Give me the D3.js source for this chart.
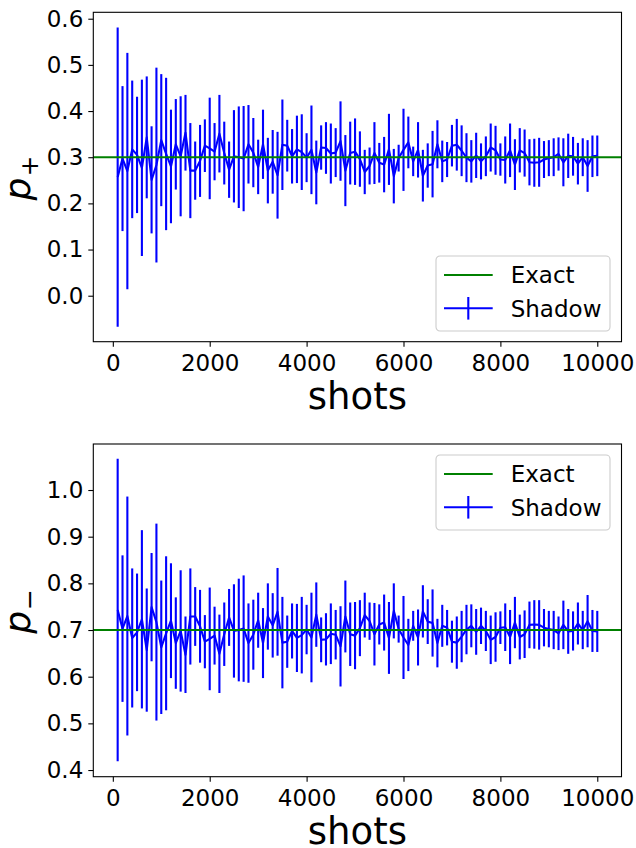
<!DOCTYPE html>
<html>
<head>
<meta charset="utf-8">
<script src="https://cdn.jsdelivr.net/npm/d3@7"></script>
<style>
  html, body { margin: 0; padding: 0; background: #ffffff; }
  svg { display: block; font-family: "DejaVu Sans", sans-serif; }
</style>
</head>
<body>
<svg id="chart" width="636" height="848"></svg>
<script>
// ---------------- data ----------------
const shots = [100,200,300,400,500,600,700,800,900,1000,
  1100,1200,1300,1400,1500,1600,1700,1800,1900,2000,
  2100,2200,2300,2400,2500,2600,2700,2800,2900,3000,
  3100,3200,3300,3400,3500,3600,3700,3800,3900,4000,
  4100,4200,4300,4400,4500,4600,4700,4800,4900,5000,
  5100,5200,5300,5400,5500,5600,5700,5800,5900,6000,
  6100,6200,6300,6400,6500,6600,6700,6800,6900,7000,
  7100,7200,7300,7400,7500,7600,7700,7800,7900,8000,
  8100,8200,8300,8400,8500,8600,8700,8800,8900,9000,
  9100,9200,9300,9400,9500,9600,9700,9800,9900,10000];

const pPlusMean = [0.257,0.297,0.270,0.317,0.305,0.277,0.343,0.251,0.283,0.337,
  0.307,0.280,0.328,0.302,0.353,0.271,0.271,0.292,0.325,0.319,
  0.312,0.351,0.309,0.273,0.302,0.300,0.297,0.328,0.310,0.279,
  0.328,0.271,0.290,0.261,0.327,0.325,0.302,0.317,0.311,0.299,
  0.316,0.267,0.321,0.320,0.308,0.310,0.335,0.271,0.309,0.312,
  0.296,0.268,0.281,0.309,0.288,0.284,0.317,0.259,0.298,0.316,
  0.332,0.291,0.316,0.260,0.282,0.285,0.328,0.291,0.295,0.325,
  0.327,0.314,0.299,0.291,0.304,0.291,0.302,0.321,0.315,0.295,
  0.294,0.315,0.284,0.315,0.309,0.289,0.288,0.289,0.295,0.298,
  0.300,0.307,0.289,0.303,0.302,0.286,0.300,0.281,0.302,0.303];

const pPlusErr = [0.324,0.157,0.256,0.149,0.126,0.191,0.132,0.116,0.211,0.143,
  0.165,0.123,0.098,0.130,0.082,0.103,0.063,0.078,0.057,0.110,
  0.062,0.084,0.068,0.061,0.100,0.110,0.114,0.085,0.075,0.059,
  0.075,0.071,0.069,0.094,0.098,0.056,0.059,0.073,0.082,0.053,
  0.096,0.069,0.048,0.056,0.065,0.053,0.086,0.077,0.068,0.072,
  0.060,0.048,0.040,0.067,0.043,0.060,0.077,0.059,0.029,0.089,
  0.056,0.032,0.060,0.056,0.048,0.072,0.052,0.045,0.038,0.045,
  0.056,0.055,0.053,0.046,0.049,0.039,0.043,0.052,0.053,0.035,
  0.051,0.058,0.055,0.048,0.051,0.050,0.052,0.053,0.040,0.039,
  0.041,0.036,0.052,0.048,0.042,0.045,0.041,0.056,0.045,0.044];

const pMinusMean = [0.743,0.703,0.730,0.683,0.695,0.723,0.657,0.749,0.717,0.663,
  0.693,0.720,0.672,0.698,0.647,0.729,0.729,0.708,0.675,0.681,
  0.688,0.649,0.691,0.727,0.698,0.700,0.703,0.672,0.690,0.721,
  0.672,0.729,0.710,0.739,0.673,0.675,0.698,0.683,0.689,0.701,
  0.684,0.733,0.679,0.680,0.692,0.690,0.665,0.729,0.691,0.688,
  0.704,0.732,0.719,0.691,0.712,0.716,0.683,0.741,0.702,0.684,
  0.668,0.709,0.684,0.740,0.718,0.715,0.672,0.709,0.705,0.675,
  0.673,0.686,0.701,0.709,0.696,0.709,0.698,0.679,0.685,0.705,
  0.706,0.685,0.716,0.685,0.691,0.711,0.712,0.711,0.705,0.702,
  0.700,0.693,0.711,0.697,0.698,0.714,0.700,0.719,0.698,0.697];

const pMinusErr = [0.324,0.157,0.256,0.149,0.126,0.191,0.132,0.116,0.211,0.143,
  0.165,0.123,0.098,0.130,0.082,0.103,0.063,0.078,0.057,0.110,
  0.062,0.084,0.068,0.061,0.100,0.110,0.114,0.085,0.075,0.059,
  0.075,0.071,0.069,0.094,0.098,0.056,0.059,0.073,0.082,0.053,
  0.096,0.069,0.048,0.056,0.065,0.053,0.086,0.077,0.068,0.072,
  0.060,0.048,0.040,0.067,0.043,0.060,0.077,0.059,0.029,0.089,
  0.056,0.032,0.060,0.056,0.048,0.072,0.052,0.045,0.038,0.045,
  0.056,0.055,0.053,0.046,0.049,0.039,0.043,0.052,0.053,0.035,
  0.051,0.058,0.055,0.048,0.051,0.050,0.052,0.053,0.040,0.039,
  0.041,0.036,0.052,0.048,0.042,0.045,0.041,0.056,0.045,0.044];

const exactPlus = 0.3;
const exactMinus = 0.7;

const xTicks = [0, 2000, 4000, 6000, 8000, 10000];
const yTicksPlus = [0.0, 0.1, 0.2, 0.3, 0.4, 0.5, 0.6];
const yTicksMinus = [0.4, 0.5, 0.6, 0.7, 0.8, 0.9, 1.0];

const legendLabels = ["Exact", "Shadow"];
const xLabel = "shots";

// ---------------- drawing ----------------
const svg = d3.select("#chart");
const BLUE = "#0000ff", GREEN = "#008000";

function panel(opts) {
  const { top, bottom, yDomain, yTicks, mean, err, exact, sub, legendTop } = opts;
  const left = 93.3, right = 621.5;
  const x = d3.scaleLinear().domain([-403, 10500]).range([left, right]);
  const y = d3.scaleLinear().domain(yDomain).range([bottom, top]);
  const g = svg.append("g");

  // error bars
  g.append("g").selectAll("line").data(shots).join("line")
    .attr("x1", (d) => x(d)).attr("x2", (d) => x(d))
    .attr("y1", (d, i) => y(mean[i] - err[i]))
    .attr("y2", (d, i) => y(mean[i] + err[i]))
    .attr("stroke", BLUE).attr("stroke-width", 2.1);

  // mean line
  const line = d3.line().x((d) => x(d)).y((d, i) => y(mean[i]));
  g.append("path").datum(shots).attr("d", line)
    .attr("fill", "none").attr("stroke", BLUE).attr("stroke-width", 2.1)
    .attr("stroke-linejoin", "round");

  // exact line
  g.append("line").attr("x1", left).attr("x2", right)
    .attr("y1", y(exact)).attr("y2", y(exact))
    .attr("stroke", GREEN).attr("stroke-width", 2.1);

  // axes
  const xAxis = d3.axisBottom(x).tickValues(xTicks).tickSize(5).tickPadding(8)
    .tickFormat(d3.format("d"));
  const gx = g.append("g").attr("transform", `translate(0,${bottom})`).call(xAxis);
  const yAxis = d3.axisLeft(y).tickValues(yTicks).tickSize(5).tickPadding(5)
    .tickFormat(d3.format(".1f"));
  const gy = g.append("g").attr("transform", `translate(${left},0)`).call(yAxis);
  [gx, gy].forEach((a) => {
    a.select(".domain").remove();
    a.selectAll(".tick line").attr("stroke", "#000").attr("stroke-width", 1.1);
    a.selectAll(".tick text").attr("fill", "#000")
      .style("font-family", "DejaVu Sans").style("font-size", "23px");
  });
  gx.selectAll(".tick text").attr("dy", "0.71em");

  // frame
  g.append("rect").attr("x", left).attr("y", top)
    .attr("width", right - left).attr("height", bottom - top)
    .attr("fill", "none").attr("stroke", "#000").attr("stroke-width", 1.1);

  // x label
  g.append("text").attr("x", (left + right) / 2).attr("y", bottom + 67)
    .attr("text-anchor", "middle").style("font-size", "37px").attr("fill", "#000")
    .text(xLabel);

  // y label (mathtext p_sub)
  const yl = g.append("text")
    .attr("transform", `translate(29.7,${(top + bottom) / 2 + 1}) rotate(-90)`)
    .attr("text-anchor", "middle").attr("fill", "#000");
  yl.append("tspan").style("font-size", "36px").style("font-style", "italic").text("p");
  yl.append("tspan").style("font-size", "25px").attr("dy", 8.3).attr("dx", 1).text(sub);

  // legend
  const lx = 436, lw = 174, lh = 75;
  const lg = g.append("g").attr("transform", `translate(${lx},${legendTop})`);
  lg.append("rect").attr("width", lw).attr("height", lh).attr("rx", 4)
    .attr("fill", "#ffffff").attr("fill-opacity", 0.8)
    .attr("stroke", "#cccccc").attr("stroke-width", 1.1);
  const rows = [19, 52.3];
  lg.append("line").attr("x1", 8).attr("x2", 56.7).attr("y1", rows[0]).attr("y2", rows[0])
    .attr("stroke", GREEN).attr("stroke-width", 2.1);
  lg.append("line").attr("x1", 8).attr("x2", 56.7).attr("y1", rows[1]).attr("y2", rows[1])
    .attr("stroke", BLUE).attr("stroke-width", 2.1);
  lg.append("line").attr("x1", 32.3).attr("x2", 32.3).attr("y1", rows[1] - 11.3).attr("y2", rows[1] + 11.3)
    .attr("stroke", BLUE).attr("stroke-width", 2.1);
  legendLabels.forEach((t, i) => {
    lg.append("text").attr("x", 74.7).attr("y", rows[i]).attr("dy", "0.36em")
      .style("font-size", "23px").attr("fill", "#000").text(t);
  });
}

panel({ top: 12.3, bottom: 341.7, yDomain: [-0.0996, 0.6139], yTicks: yTicksPlus,
  mean: pPlusMean, err: pPlusErr, exact: exactPlus, sub: "+", legendTop: 256 });
panel({ top: 444, bottom: 776.7, yDomain: [0.3857, 1.0986], yTicks: yTicksMinus,
  mean: pMinusMean, err: pMinusErr, exact: exactMinus, sub: "\u2212", legendTop: 455 });
</script>
</body>
</html>
